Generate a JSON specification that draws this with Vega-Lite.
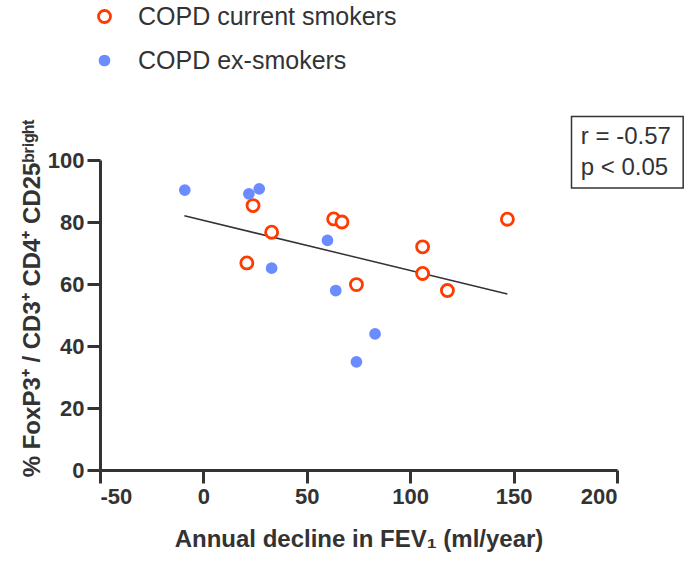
{
  "$schema": "https://vega.github.io/schema/vega-lite/v6.json",
  "width": 517,
  "height": 310,
  "autosize": {"type": "none"},
  "padding": {"left": 100, "top": 160, "right": 68, "bottom": 95},
  "background": "white",
  "config": {
    "view": {"stroke": null},
    "font": "Liberation Sans",
    "axis": {
      "grid": false,
      "domainColor": "#333333",
      "domainWidth": 3,
      "tickColor": "#333333",
      "tickWidth": 3,
      "tickSize": 13,
      "labelFontSize": 22,
      "labelFontWeight": "bold",
      "labelColor": "#333333",
      "labelPadding": 3,
      "titleFontSize": 24,
      "titleFontWeight": "bold",
      "titleColor": "#333333"
    },
    "legend": {
      "labelFontSize": 25,
      "labelColor": "#333333",
      "labelFont": "Liberation Sans",
      "labelLimit": 0
    }
  },
  "datasets": {
    "pts": [
      {"group": "COPD current smokers", "decline": 24, "pct": 85.3},
      {"group": "COPD current smokers", "decline": 33, "pct": 76.7},
      {"group": "COPD current smokers", "decline": 21, "pct": 66.8},
      {"group": "COPD current smokers", "decline": 63, "pct": 81.0},
      {"group": "COPD current smokers", "decline": 67, "pct": 80.0},
      {"group": "COPD current smokers", "decline": 74, "pct": 59.8},
      {"group": "COPD current smokers", "decline": 106, "pct": 72.0},
      {"group": "COPD current smokers", "decline": 106, "pct": 63.4},
      {"group": "COPD current smokers", "decline": 118, "pct": 57.9},
      {"group": "COPD current smokers", "decline": 147, "pct": 80.9},
      {"group": "COPD ex-smokers", "decline": -9, "pct": 90.3},
      {"group": "COPD ex-smokers", "decline": 22, "pct": 89.1},
      {"group": "COPD ex-smokers", "decline": 27, "pct": 90.7},
      {"group": "COPD ex-smokers", "decline": 60, "pct": 74.1},
      {"group": "COPD ex-smokers", "decline": 33, "pct": 65.1},
      {"group": "COPD ex-smokers", "decline": 64, "pct": 57.9},
      {"group": "COPD ex-smokers", "decline": 83, "pct": 43.9},
      {"group": "COPD ex-smokers", "decline": 74, "pct": 34.9}
    ],
    "fit": [
      {"decline": -9.2, "pct": 82.0},
      {"decline": 147, "pct": 56.8}
    ],
    "box": [
      {"x1": 178, "x2": 232, "y1": 91, "y2": 114}
    ],
    "stats": [
      {"label": "r = -0.57", "x": 182.5, "y": 107.4},
      {"label": "p < 0.05", "x": 182.5, "y": 97.4}
    ]
  },
  "layer": [
    {
      "data": {"name": "fit"},
      "mark": {"type": "line", "color": "#333333", "strokeWidth": 1.5},
      "encoding": {
        "x": {
          "field": "decline", "type": "quantitative",
          "scale": {"domain": [-50, 200], "nice": false, "zero": false},
          "axis": {"values": [-50, 0, 50, 100, 150, 200], "labelExpr": "'' + datum.value", "title": "Annual decline in FEV₁ (ml/year)", "titlePadding": 20}
        },
        "y": {
          "field": "pct", "type": "quantitative",
          "scale": {"domain": [0, 100], "nice": false},
          "axis": {"values": [0, 20, 40, 60, 80, 100], "title": "% FoxP3⁺ / CD3⁺ CD4⁺ CD25ᵇʳⁱᵍʰᵗ", "titlePadding": 3, "titleY": 138}
        }
      }
    },
    {
      "data": {"name": "pts"},
      "mark": {"type": "point", "shape": "circle", "strokeWidth": 2.8, "opacity": 1},
      "encoding": {
        "x": {"field": "decline", "type": "quantitative"},
        "y": {"field": "pct", "type": "quantitative"},
        "stroke": {
          "field": "group", "type": "nominal",
          "scale": {"domain": ["COPD current smokers", "COPD ex-smokers"], "range": ["#ff3b00", "#6b8cff"]},
          "legend": {"title": null, "orient": "none", "legendX": -8, "legendY": -156, "rowPadding": 18, "labelOffset": 21, "symbolStrokeWidth": 2.8}
        },
        "fill": {
          "field": "group", "type": "nominal",
          "scale": {"domain": ["COPD current smokers", "COPD ex-smokers"], "range": ["#ffffff", "#6b8cff"]},
          "legend": {"title": null, "orient": "none", "legendX": -8, "legendY": -156, "rowPadding": 18, "labelOffset": 21, "symbolStrokeWidth": 2.8}
        },
        "size": {
          "field": "group", "type": "nominal",
          "scale": {"domain": ["COPD current smokers", "COPD ex-smokers"], "range": [145, 80]},
          "legend": {"title": null, "orient": "none", "legendX": -8, "legendY": -156, "rowPadding": 18, "labelOffset": 21, "symbolStrokeWidth": 2.8}
        }
      }
    },
    {
      "data": {"name": "box"},
      "mark": {"type": "rect", "fill": "white", "stroke": "#333333", "strokeWidth": 1.5},
      "encoding": {
        "x": {"field": "x1", "type": "quantitative"},
        "x2": {"field": "x2"},
        "y": {"field": "y1", "type": "quantitative"},
        "y2": {"field": "y2"}
      }
    },
    {
      "data": {"name": "stats"},
      "mark": {"type": "text", "align": "left", "baseline": "middle", "fontSize": 24, "color": "#333333", "font": "Liberation Sans"},
      "encoding": {
        "x": {"field": "x", "type": "quantitative"},
        "y": {"field": "y", "type": "quantitative"},
        "text": {"field": "label"}
      }
    }
  ]
}
